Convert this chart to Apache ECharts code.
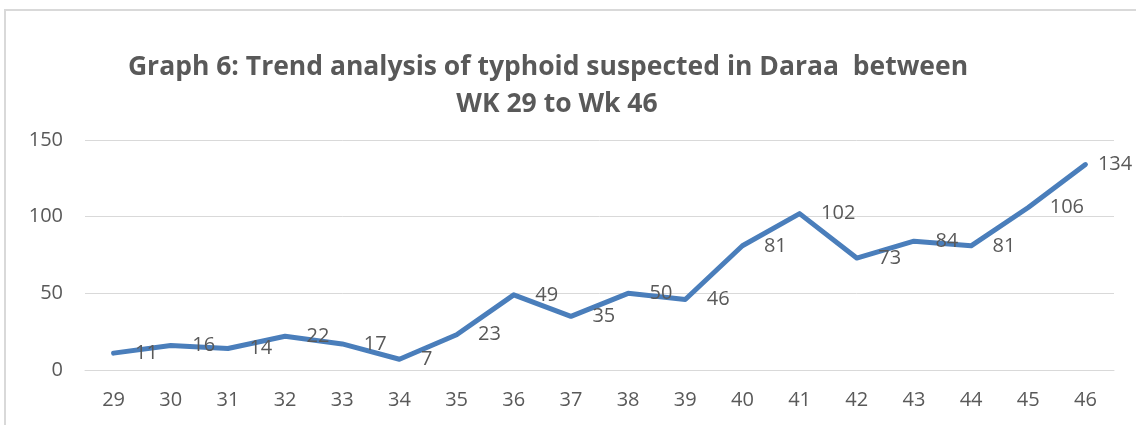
<!DOCTYPE html>
<html>
<head>
<meta charset="utf-8">
<script src="https://cdn.jsdelivr.net/npm/echarts@6/dist/echarts.min.js"></script>
<style>
  html, body { margin: 0; padding: 0; background: #fff; }
  #frame { position: absolute; left: 4px; top: 9px; width: 1140px; height: 430px; border: 2px solid #d9d9d9; box-sizing: border-box; }
  #chart { position: absolute; left: 0; top: 0; width: 1136px; height: 425px; }
</style>
</head>
<body>
<div id="frame"></div>
<div id="chart"></div>
<script>
// weeks and suspected cases
const weeks = ['29', '30', '31', '32', '33', '34', '35', '36', '37', '38', '39', '40', '41', '42', '43', '44', '45', '46'];
const cases = [11, 16, 14, 22, 17, 7, 23, 49, 35, 50, 46, 81, 102, 73, 84, 81, 106, 134];
const titleLines = ['Graph 6: Trend analysis of typhoid suspected in Daraa  between', 'WK 29 to Wk 46'];

const textColor = '#595959';
const gridColor = '#d9d9d9';
const lineColor = '#4a7ebb';

// last label sits closer to the point so it fits inside the frame
const seriesData = cases.map((v, i) =>
    i === cases.length - 1 ? { value: v, label: { distance: 12 } } : v
);

const titleFont = 'bold 26.5px "Open Sans"';

const chart = echarts.init(document.getElementById('chart'));
chart.setOption({
    animation: false,
    textStyle: { fontFamily: 'Open Sans' },
    graphic: [
        {
            type: 'text',
            x: 548,
            y: 67,
            style: { text: titleLines[0], textAlign: 'center', textVerticalAlign: 'middle', fill: textColor, font: titleFont }
        },
        {
            type: 'text',
            x: 557,
            y: 104,
            style: { text: titleLines[1], textAlign: 'center', textVerticalAlign: 'middle', fill: textColor, font: titleFont }
        }
    ],
    grid: { left: 85, right: 22, top: 140, bottom: 55 },
    xAxis: {
        type: 'category',
        data: weeks,
        boundaryGap: true,
        axisLine: { lineStyle: { color: gridColor, width: 1 } },
        axisTick: { show: false },
        axisLabel: { color: textColor, fontSize: 20, margin: 20 }
    },
    yAxis: {
        type: 'value',
        min: 0,
        max: 150,
        interval: 50,
        axisLine: { show: false },
        axisTick: { show: false },
        splitLine: { lineStyle: { color: gridColor, width: 1 } },
        axisLabel: { color: textColor, fontSize: 20, margin: 22 }
    },
    series: [{
        type: 'line',
        data: seriesData,
        symbol: 'circle',
        symbolSize: 1,
        itemStyle: { color: lineColor },
        lineStyle: { color: lineColor, width: 5, cap: 'round', join: 'round' },
        label: {
            show: true,
            position: 'right',
            distance: 21,
            color: textColor,
            fontSize: 20
        }
    }]
});
</script>
</body>
</html>
